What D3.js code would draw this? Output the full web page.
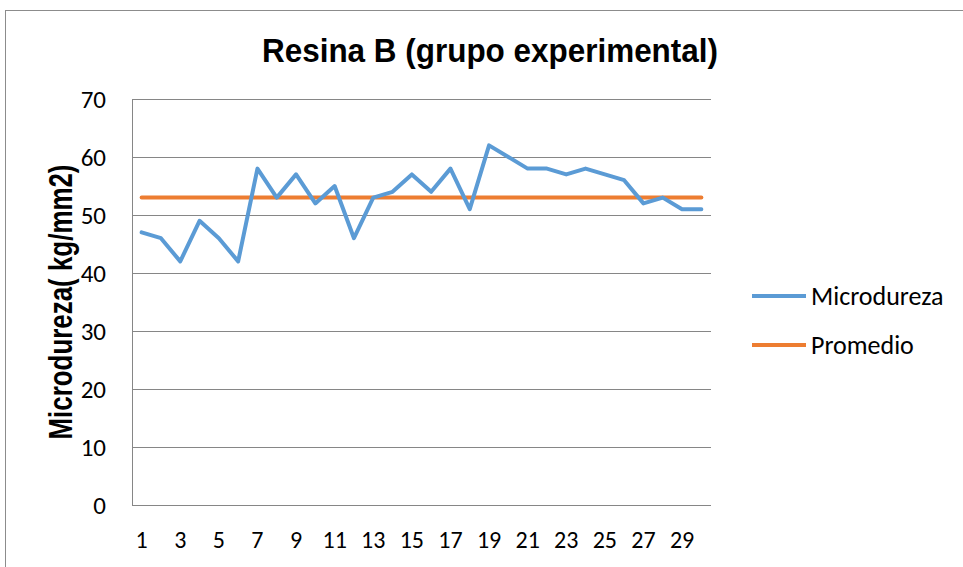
<!DOCTYPE html>
<html>
<head>
<meta charset="utf-8">
<script src="https://cdn.jsdelivr.net/npm/d3@7"></script>
<style>
  body { margin: 0; background: #fff; }
  svg { display: block; }
</style>
</head>
<body>
<div id="chart"></div>
<script>
// Data
const muestras = d3.range(1, 31);
const microdureza = [47, 46, 42, 49, 46, 42, 58, 53, 57, 52, 55, 46, 53, 54, 57,
                     54, 58, 51, 62, 60, 58, 58, 57, 58, 57, 56, 52, 53, 51, 51];
const promedio = muestras.map(() => 53);
const yTicks = [0, 10, 20, 30, 40, 50, 60, 70];

const width = 963, height = 567;
const margin = { top: 99, left: 132, right: 252, bottom: 62 };
const labelFont = 'Carlito, Calibri, Lato, "Open Sans", sans-serif';
const titleFont = 'Arial, "Liberation Sans", sans-serif';

const svg = d3.select('#chart').append('svg')
    .attr('width', width)
    .attr('height', height);

// chart frame
svg.append('rect')
    .attr('x', 5.5).attr('y', 10.5)
    .attr('width', 980).attr('height', 600)
    .style('fill', 'none')
    .style('stroke', '#8c8c8c')
    .style('stroke-width', 1);

const x = d3.scaleBand()
    .domain(muestras)
    .range([margin.left, width - margin.right]);

const y = d3.scaleLinear()
    .domain([0, 70])
    .range([height - margin.bottom, margin.top]);

const px = d => x(d) + x.bandwidth() / 2;

// gridlines
svg.append('g')
    .selectAll('line')
    .data(yTicks)
    .enter()
    .append('line')
    .attr('x1', margin.left)
    .attr('x2', width - margin.right)
    .attr('y1', d => Math.round(y(d)) + 0.5)
    .attr('y2', d => Math.round(y(d)) + 0.5)
    .style('stroke', '#868686')
    .style('stroke-width', 1);

// y axis line
svg.append('line')
    .attr('x1', margin.left + 0.5).attr('x2', margin.left + 0.5)
    .attr('y1', y(70)).attr('y2', y(0))
    .style('stroke', '#868686');

// y tick labels
const yAxis = svg.append('g')
    .attr('transform', 'translate(106, 0)')
    .call(d3.axisLeft(y).tickValues(yTicks).tickSize(0).tickPadding(0));
yAxis.select('.domain').remove();
yAxis.selectAll('text')
    .style('font-family', labelFont)
    .style('font-size', '25px')
    .style('fill', '#000');

// x tick labels (every other category)
const xAxis = svg.append('g')
    .attr('transform', 'translate(0, 531)')
    .call(d3.axisBottom(x).tickValues(muestras.filter(d => d % 2 === 1)).tickSize(0).tickPadding(0));
xAxis.select('.domain').remove();
xAxis.selectAll('text')
    .style('font-family', labelFont)
    .style('font-size', '24px')
    .style('fill', '#000');

// lines
const line = d3.line()
    .x((d, i) => px(muestras[i]))
    .y(d => y(d));

svg.append('path')
    .datum(promedio)
    .attr('d', line)
    .style('fill', 'none')
    .style('stroke', '#ED7D31')
    .style('stroke-width', 4)
    .style('stroke-linecap', 'round');

svg.append('path')
    .datum(microdureza)
    .attr('d', line)
    .style('fill', 'none')
    .style('stroke', '#5B9BD5')
    .style('stroke-width', 4)
    .style('stroke-linejoin', 'round')
    .style('stroke-linecap', 'round');

// title
svg.append('text')
    .attr('x', 490)
    .attr('y', 62)
    .attr('text-anchor', 'middle')
    .attr('textLength', 456)
    .attr('lengthAdjust', 'spacingAndGlyphs')
    .style('font-family', titleFont)
    .style('font-weight', 'bold')
    .style('font-size', '33px')
    .text('Resina B (grupo experimental)');

// y axis title
svg.append('text')
    .attr('transform', `translate(72, ${(y(0) + y(70)) / 2}) rotate(-90)`)
    .attr('text-anchor', 'middle')
    .attr('textLength', 275)
    .attr('lengthAdjust', 'spacingAndGlyphs')
    .style('font-family', titleFont)
    .style('font-weight', 'bold')
    .style('font-size', '33px')
    .text('Microdureza( kg/mm2)');

// legend
const legendItems = [
    { label: 'Microdureza', color: '#5B9BD5' },
    { label: 'Promedio', color: '#ED7D31' }
];

const legend = svg.append('g')
    .attr('transform', 'translate(752, 296)');

legendItems.forEach((item, i) => {
    const g = legend.append('g')
        .attr('transform', `translate(0, ${i * 49})`);

    g.append('line')
        .attr('x1', 0).attr('x2', 54)
        .style('stroke', item.color)
        .style('stroke-width', 4);

    g.append('text')
        .attr('x', 59)
        .attr('y', 9)
        .style('font-family', labelFont)
        .style('font-size', '26px')
        .text(item.label);
});
</script>
</body>
</html>
